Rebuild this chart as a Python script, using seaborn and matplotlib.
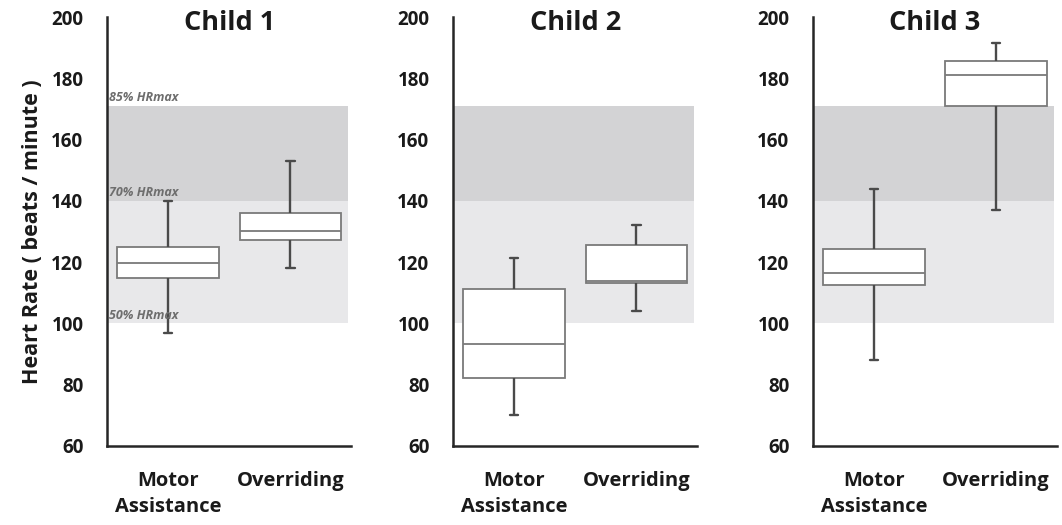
import numpy as np
import pandas as pd
import matplotlib
matplotlib.use("Agg")
import matplotlib.pyplot as plt
import seaborn as sns

## 每个孩子、每种模式的五数概括：最小、Q1、中位数、Q3、最大
children = ["Child 1", "Child 2", "Child 3"]
conditions = ["Motor\nAssistance", "Overriding"]

child1_motor = [97, 114.7, 119.7, 124.9, 140]
child1_over = [118, 127.2, 130.2, 136.1, 153]
child2_motor = [70, 82.2, 93.2, 111.2, 121.5]
child2_over = [104, 113.3, 113.7, 125.7, 132]
child3_motor = [88, 112.6, 116.6, 124.4, 143.8]
child3_over = [137, 171.1, 181.1, 185.7, 191.6]

zone_levels = [100, 140, 171]
zone_labels = ["50% HRmax", "70% HRmax", "85% HRmax"]
y_ticks = [60, 80, 100, 120, 140, 160, 180, 200]

groups = {
    "Child 1": [child1_motor, child1_over],
    "Child 2": [child2_motor, child2_over],
    "Child 3": [child3_motor, child3_over],
}
rows = []
for child, vals in groups.items():
    for cond, v in zip(conditions, vals):
        for x in v:
            rows.append({"child": child, "condition": cond, "hr": x})
df = pd.DataFrame(rows)

sns.set_style("white")
plt.rcParams['font.family'] = ['Open Sans', 'DejaVu Sans']
plt.rcParams['font.weight'] = 'bold'

fig = plt.figure(figsize=(10.62, 5.25), dpi=100)
lefts = [0.1008, 0.4266, 0.7655]
dark = "#262626"

for i, child in enumerate(children):
    ax = fig.add_axes([lefts[i], 0.1505, 0.2300, 0.8171])
    ax.axhspan(zone_levels[0], zone_levels[1], xmin=0, xmax=0.985, color="#e8e8ea", lw=0, zorder=0)
    ax.axhspan(zone_levels[1], zone_levels[2], xmin=0, xmax=0.985, color="#d3d3d5", lw=0, zorder=0)
    sns.boxplot(data=df[df.child == child], x="condition", y="hr", order=conditions,
                whis=(0, 100), width=0.83, color="white", linecolor="#7a7a7a",
                linewidth=1.3, ax=ax,
                whiskerprops=dict(color="#4a4a4a", linewidth=1.7),
                capprops=dict(color="#4a4a4a", linewidth=1.7),
                medianprops=dict(color="#7a7a7a", linewidth=1.3, zorder=5),
                capwidths=0.07)
    ax.set_xlim(-0.5, 1.5)
    ax.set_ylim(60, 200)
    ax.set_yticks(y_ticks)
    ax.set_xticks([-0.5, 0.5, 1.5], minor=False)
    ax.set_xticks([0, 1], minor=True)
    ax.set_xticklabels([])
    ax.set_xticklabels(conditions, minor=True, linespacing=1.4)
    ax.tick_params(axis="x", which="major", direction="out", length=5, width=1.8, color=dark)
    ax.tick_params(axis="x", which="minor", length=0, pad=18, labelsize=14.5, labelcolor="#1a1a1a")
    ax.tick_params(axis="y", direction="out", length=6, width=1.8, color=dark,
                   pad=11, labelsize=13.5, labelcolor="#1a1a1a")
    for lab in ax.get_xticklabels(minor=True) + ax.get_yticklabels():
        lab.set_fontweight("bold")
    for s in ["top", "right"]:
        ax.spines[s].set_visible(False)
    for s in ["left", "bottom"]:
        ax.spines[s].set_color(dark)
        ax.spines[s].set_linewidth(1.8)
    ax.set_xlabel("")
    if i == 0:
        ax.set_ylabel("Heart Rate ( beats / minute )", fontsize=15.5, fontweight="bold",
                      color="#1a1a1a", labelpad=6)
        for lvl, txt in zip(zone_levels, zone_labels):
            ax.text(-0.48, lvl + 0.6, txt, fontsize=9, style="italic", fontweight="bold",
                    color="#6e6e6e", va="bottom", ha="left", zorder=4)
    else:
        ax.set_ylabel("")
    ax.text(0.5, 0.970, child, transform=ax.transAxes, ha="center", va="baseline",
            fontsize=19.5, fontweight="bold", color="#1a1a1a")

plt.savefig("out.png", dpi=100)
